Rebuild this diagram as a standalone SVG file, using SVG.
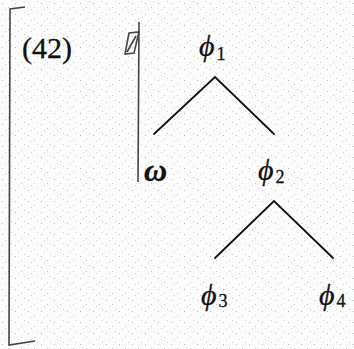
<svg xmlns="http://www.w3.org/2000/svg" width="354" height="349" viewBox="0 0 354 349">
<defs>
<pattern id="paper" width="13" height="11" patternUnits="userSpaceOnUse">
<rect width="13" height="11" fill="#fbfbfb"/>
<rect x="2" y="3" width="1" height="1" fill="#b8b8b8"/>
<rect x="8" y="7" width="1" height="1" fill="#c4c4c4"/>
<rect x="11" y="1" width="1" height="1" fill="#cfcfcf"/>
<rect x="5" y="9" width="1" height="1" fill="#d0d0d0"/>
</pattern>
<style>
text{font-family:'Times New Roman','Liberation Serif',Times,serif;fill:#111;stroke:#111;stroke-width:0.3}
.phi{font-style:italic;font-size:30px}
.sub{font-size:18px;font-style:normal}
.edge{stroke:#111;stroke-width:1.8;fill:none;stroke-linecap:round}
.mark{stroke:#444;stroke-width:1.6;fill:none}
</style>
</defs>
<rect width="354" height="349" fill="url(#paper)"/>
<g id="margin">
<path class="mark" d="M25,7 L10,9 L9,345 L35,341"/>
<path class="mark" d="M139,22 L138,182"/>
<path class="mark" stroke-width="1.2" d="M129,33 L139,32 L134,53 L125,54 Z M127,52 L136,36"/>
</g>
<g id="label42"><text x="22" y="58" font-size="30">(42)</text></g>
<g id="connectors">
<path class="edge" d="M154,134 L215,77 L274,134"/>
<path class="edge" d="M215,258 L274,201 L333,258"/>
</g>
<g id="n_phi1"><text class="phi" x="199" y="56">ϕ<tspan class="sub" dx="2" dy="4">1</tspan></text></g>
<g id="n_omega"><text x="144" y="181" font-size="32" font-style="italic" font-weight="bold">ω</text></g>
<g id="n_phi2"><text class="phi" x="258" y="180">ϕ<tspan class="sub" dx="2" dy="3">2</tspan></text></g>
<g id="n_phi3"><text class="phi" x="201" y="305">ϕ<tspan class="sub" dx="2" dy="2">3</tspan></text></g>
<g id="n_phi4"><text class="phi" x="319" y="305">ϕ<tspan class="sub" dx="2" dy="2">4</tspan></text></g>
</svg>
